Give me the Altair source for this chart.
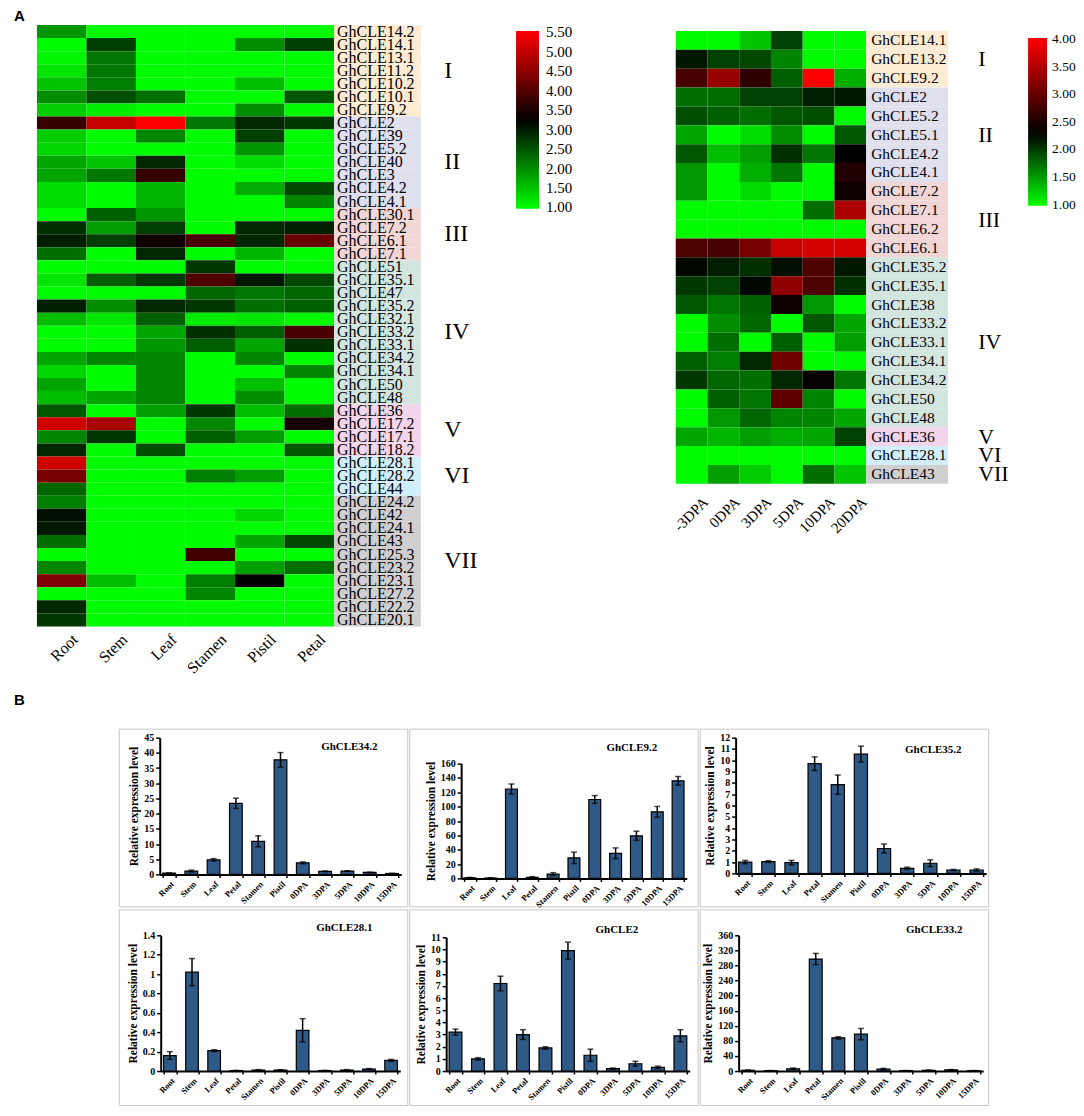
import altair as alt
import pandas as pd

SERIF = "Liberation Serif"
SANS = "Liberation Sans"

# ---------------- Panel A : tissues heatmap ----------------
TISSUES = ["Root", "Stem", "Leaf", "Stamen", "Pistil", "Petal"]
GENES_L = ["GhCLE14.2", "GhCLE14.1", "GhCLE13.1", "GhCLE11.2", "GhCLE10.2", "GhCLE10.1", "GhCLE9.2",
           "GhCLE2", "GhCLE39", "GhCLE5.2", "GhCLE40", "GhCLE3", "GhCLE4.2", "GhCLE4.1",
           "GhCLE30.1", "GhCLE7.2", "GhCLE6.1", "GhCLE7.1",
           "GhCLE51", "GhCLE35.1", "GhCLE47", "GhCLE35.2", "GhCLE32.1", "GhCLE33.2", "GhCLE33.1",
           "GhCLE34.2", "GhCLE34.1", "GhCLE50", "GhCLE48",
           "GhCLE36", "GhCLE17.2", "GhCLE17.1", "GhCLE18.2",
           "GhCLE28.1", "GhCLE28.2", "GhCLE44",
           "GhCLE24.2", "GhCLE42", "GhCLE24.1", "GhCLE43", "GhCLE25.3", "GhCLE23.2", "GhCLE23.1",
           "GhCLE27.2", "GhCLE22.2", "GhCLE20.1"]
GROUP_NAMES = ["I", "II", "III", "IV", "V", "VI", "VII"]
GROUP_SIZES_L = [7, 7, 4, 11, 4, 3, 10]

ROOT_L = [1.91, 1.0, 1.05, 1.19, 1.49, 1.98, 1.41,
          3.74, 1.41, 1.34, 1.77, 1.77, 1.27, 1.27,
          1.0, 2.83, 2.97, 2.26,
          1.0, 1.19, 1.0, 2.97, 1.56, 1.0, 1.0, 1.77, 1.34, 1.77, 1.56,
          2.47, 5.09, 2.05, 2.90,
          5.09, 4.31, 2.33,
          2.12, 3.11, 3.04, 2.26, 1.0, 2.05, 4.38, 1.0, 2.90, 2.76]
STEM_L = [1.0, 2.69, 2.19, 2.19, 2.12, 2.54, 1.13,
          5.01, 1.0, 1.0, 1.49, 2.19, 1.0, 1.0,
          2.40, 1.84, 2.69, 1.0,
          1.0, 2.40, 1.0, 1.98, 1.19, 1.0, 1.0, 2.05, 1.0, 1.0, 1.77,
          1.0, 4.73, 2.76, 1.0,
          1.0, 1.0, 1.0,
          1.0, 1.0, 1.0, 1.0, 1.0, 1.0, 1.56, 1.0, 1.0, 1.0]
LEAF_L = [1.0, 1.0, 1.0, 1.0, 1.0, 2.26, 1.0,
          5.5, 2.05, 1.0, 2.90, 3.74, 1.62, 1.62,
          1.91, 2.69, 3.39, 2.90,
          1.0, 2.76, 1.0, 2.90, 2.40, 1.77, 1.91, 2.05, 2.05, 2.05, 2.05,
          1.84, 1.0, 1.0, 2.54,
          1.0, 1.0, 1.0,
          1.0, 1.0, 1.0, 1.0, 1.0, 1.0, 1.0, 1.0, 1.0, 1.0]
STAMEN_L = [1.0, 1.0, 1.0, 1.0, 1.0, 1.0, 1.0,
            2.19, 1.0, 1.0, 1.0, 1.0, 1.0, 1.0,
            1.0, 1.0, 3.89, 1.0,
            2.76, 3.96, 2.33, 2.76, 1.13, 2.83, 2.40, 1.0, 1.0, 1.0, 1.0,
            2.76, 2.05, 2.40, 1.0,
            1.0, 2.12, 1.0,
            1.0, 1.0, 1.0, 1.0, 3.81, 1.0, 2.12, 2.05, 1.0, 1.0]
PISTIL_L = [1.0, 1.98, 1.0, 1.0, 1.56, 1.0, 1.98,
            2.90, 2.69, 1.91, 1.27, 1.0, 1.70, 1.0,
            1.0, 2.90, 2.90, 1.62,
            1.0, 3.04, 2.19, 2.26, 1.19, 2.40, 1.77, 2.05, 1.0, 1.56, 1.98,
            1.56, 1.0, 1.84, 1.0,
            1.0, 1.84, 1.0,
            1.0, 1.34, 1.0, 1.77, 1.0, 1.84, 3.25, 1.0, 1.0, 1.0]
PETAL_L = [1.0, 2.69, 1.0, 1.0, 1.0, 2.47, 1.0,
           2.76, 1.0, 1.0, 1.0, 1.0, 2.61, 2.05,
           1.0, 2.97, 4.17, 1.0,
           1.0, 2.61, 2.33, 2.40, 1.0, 3.89, 2.83, 1.0, 2.05, 1.0, 1.0,
           2.26, 3.46, 1.0, 2.47,
           1.0, 1.0, 1.0,
           1.0, 1.0, 1.0, 2.61, 1.0, 2.26, 1.0, 1.0, 1.0, 1.0]
LEFT_COLS = [ROOT_L, STEM_L, LEAF_L, STAMEN_L, PISTIL_L, PETAL_L]
LEGEND_L = [5.5, 5.0, 4.5, 4.0, 3.5, 3.0, 2.5, 2.0, 1.5, 1.0]

# ---------------- Panel A : fibre development heatmap ----------------
STAGES = ["-3DPA", "0DPA", "3DPA", "5DPA", "10DPA", "20DPA"]
GENES_R = ["GhCLE14.1", "GhCLE13.2", "GhCLE9.2",
           "GhCLE2", "GhCLE5.2", "GhCLE5.1", "GhCLE4.2", "GhCLE4.1",
           "GhCLE7.2", "GhCLE7.1", "GhCLE6.2", "GhCLE6.1",
           "GhCLE35.2", "GhCLE35.1", "GhCLE38", "GhCLE33.2", "GhCLE33.1", "GhCLE34.1",
           "GhCLE34.2", "GhCLE50", "GhCLE48",
           "GhCLE36", "GhCLE28.1", "GhCLE43"]
GROUP_SIZES_R = [3, 5, 4, 9, 1, 1, 1]
M3DPA = [1.0, 2.18, 2.78, 1.73, 1.89, 1.44, 1.85, 1.52, 1.52, 1.0, 1.0, 2.83,
         2.26, 2.01, 1.85, 1.0, 1.0, 1.81, 2.01, 1.0, 1.0, 1.44, 1.0, 1.0]
D0DPA = [1.0, 1.97, 3.31, 1.73, 1.81, 1.0, 1.32, 1.0, 1.0, 1.0, 1.0, 2.78,
         2.14, 1.97, 1.69, 1.57, 1.73, 1.65, 1.77, 1.81, 1.52, 1.36, 1.0, 1.48]
D3DPA = [1.28, 1.93, 2.62, 1.97, 1.73, 1.16, 1.48, 1.40, 1.16, 1.0, 1.0, 3.10,
         2.05, 2.26, 1.81, 1.77, 1.0, 2.10, 1.73, 1.69, 1.77, 1.48, 1.0, 1.24]
D5DPA = [1.97, 1.61, 1.81, 1.97, 1.85, 1.57, 2.05, 1.69, 1.0, 1.0, 1.0, 3.63,
         2.22, 3.26, 2.40, 1.0, 1.81, 3.05, 2.10, 2.94, 1.61, 1.40, 1.0, 1.0]
D10DPA = [1.0, 1.0, 4.0, 2.14, 1.89, 1.0, 1.69, 1.0, 1.0, 1.73, 1.0, 3.74,
          2.83, 2.83, 1.52, 1.85, 1.0, 1.0, 2.35, 1.61, 1.61, 1.44, 1.0, 1.73]
D20DPA = [1.0, 1.0, 1.40, 2.18, 1.0, 1.85, 2.30, 2.53, 2.40, 3.47, 1.0, 3.74,
          2.18, 2.05, 1.0, 1.44, 1.48, 1.0, 1.69, 1.0, 1.44, 1.97, 1.0, 1.28]
RIGHT_COLS = [M3DPA, D0DPA, D3DPA, D5DPA, D10DPA, D20DPA]
LEGEND_R = [4.0, 3.5, 3.0, 2.5, 2.0, 1.5, 1.0]

# group background colours (style)
GROUP_BG = ["#FDEBD3", "#DFDFEE", "#F2D6D6", "#D3E5DF", "#F4D4EA", "#D0EFFA", "#D0CECE"]

# ---------------- Panel B : qRT-PCR ----------------
SAMPLES = ["Root", "Stem", "Leaf", "Petal", "Stamen", "Pistil", "0DPA", "3DPA", "5DPA", "10DPA", "15DPA"]
P1_NAME = "GhCLE34.2"
P1_VAL = [0.4, 1.1, 4.8, 23.4, 10.9, 37.7, 3.8, 1.0, 1.1, 0.65, 0.3]
P1_ERR = [0.1, 0.3, 0.4, 1.7, 1.8, 2.4, 0.3, 0.1, 0.1, 0.1, 0.05]
P2_NAME = "GhCLE9.2"
P2_VAL = [0.9, 0.5, 124.6, 1.4, 6.0, 28.6, 110.0, 35.0, 59.4, 92.8, 136.0]
P2_ERR = [0.5, 0.3, 7.0, 1.0, 2.0, 8.0, 5.5, 7.5, 6.4, 7.5, 6.0]
P3_NAME = "GhCLE35.2"
P3_VAL = [1.0, 1.05, 0.95, 9.7, 7.85, 10.55, 2.2, 0.45, 0.9, 0.3, 0.3]
P3_ERR = [0.15, 0.08, 0.2, 0.6, 0.85, 0.7, 0.4, 0.1, 0.3, 0.05, 0.1]
P4_NAME = "GhCLE28.1"
P4_VAL = [0.16, 1.02, 0.21, 0.005, 0.01, 0.01, 0.42, 0.005, 0.01, 0.02, 0.11]
P4_ERR = [0.04, 0.14, 0.01, 0.002, 0.004, 0.004, 0.12, 0.002, 0.004, 0.005, 0.01]
P5_NAME = "GhCLE2"
P5_VAL = [3.2, 1.0, 7.2, 3.0, 1.9, 9.9, 1.3, 0.2, 0.6, 0.3, 2.9]
P5_ERR = [0.25, 0.1, 0.6, 0.4, 0.1, 0.7, 0.5, 0.05, 0.2, 0.1, 0.5]
P6_NAME = "GhCLE33.2"
P6_VAL = [2, 1, 6, 297, 88, 98, 5, 1, 2, 3, 1]
P6_ERR = [0.5, 0.3, 2, 15, 3, 15, 2, 0.3, 0.5, 0.8, 0.3]

P1_TICKS = list(range(0, 46, 5))
P2_TICKS = list(range(0, 161, 20))
P3_TICKS = list(range(0, 13, 1))
P4_TICKS = [0, 0.2, 0.4, 0.6, 0.8, 1, 1.2, 1.4]
P5_TICKS = list(range(0, 12, 1))
P6_TICKS = list(range(0, 361, 40))

BAR_FILL = "#2F5A88"


def heat_section(genes, col_names, col_arrays, sizes, field, cscale, legend,
                 colw, rowh, width, height, y_top, label_w, label_dx, label_fs,
                 num_x, num_fs, tdx, tdy, tfs, extra=()):
    n = len(genes)
    grp = [g for g, s in zip(GROUP_NAMES, sizes) for _ in range(s)]
    cells = pd.DataFrame([{"c0": c, "c1": c + 1, "r0": r, "r1": r + 1, field: col_arrays[c][r]}
                          for c in range(len(col_names)) for r in range(n)])
    sx = alt.Scale(domain=[0, width / colw], range=[0, width], nice=False, zero=False)
    sy = alt.Scale(domain=[0, n], range=[y_top, y_top + n * rowh], nice=False, zero=False)
    heat = alt.Chart(cells).mark_rect().encode(
        x=alt.X("c0:Q", scale=sx, axis=None), x2="c1",
        y=alt.Y("r0:Q", scale=sy, axis=None), y2="r1",
        color=alt.Color(f"{field}:Q", scale=cscale, legend=legend))
    ncol = len(col_names)
    lab = pd.DataFrame({"gene": genes, "grp": grp,
                        "r0": list(range(n)), "r1": [i + 1 for i in range(n)],
                        "lx0": [float(ncol)] * n, "lx1": [ncol + label_w / colw] * n,
                        "tx": [ncol + label_dx / colw] * n, "ty": [i + 0.5 for i in range(n)]})
    bg = alt.Chart(lab).mark_rect().encode(
        x=alt.X("lx0:Q", scale=sx, axis=None), x2="lx1",
        y=alt.Y("r0:Q", scale=sy, axis=None), y2="r1",
        fill=alt.Fill("grp:N", scale=alt.Scale(domain=GROUP_NAMES, range=GROUP_BG), legend=None))
    txt = alt.Chart(lab).mark_text(align="left", baseline="middle", font=SERIF,
                                   fontSize=label_fs, color="black").encode(
        x=alt.X("tx:Q", scale=sx, axis=None), y=alt.Y("ty:Q", scale=sy, axis=None), text="gene:N")
    starts, acc = [], 0
    for s in sizes:
        starts.append(acc + s / 2)
        acc += s
    nums = pd.DataFrame({"grp": GROUP_NAMES, "ny": starts, "nx": [num_x / colw] * len(sizes)})
    numt = alt.Chart(nums).mark_text(align="left", baseline="middle", font=SERIF,
                                     fontSize=num_fs, color="black").encode(
        x=alt.X("nx:Q", scale=sx, axis=None), y=alt.Y("ny:Q", scale=sy, axis=None), text="grp:N")
    tk = pd.DataFrame({"name": col_names,
                       "kx": [c + 0.5 + tdx / colw for c in range(ncol)],
                       "ky": [n + tdy / rowh] * ncol})
    tkt = alt.Chart(tk).mark_text(align="right", baseline="top", angle=315, font=SERIF,
                                  fontSize=tfs, color="black").encode(
        x=alt.X("kx:Q", scale=sx, axis=None), y=alt.Y("ky:Q", scale=sy, axis=None), text="name:N")
    return alt.layer(heat, bg, txt, numt, tkt, *extra).properties(width=width, height=height)


# left section (domain padded a hair so the end labels stay centred on their values)
scale_L = alt.Scale(domain=[0.97, 3.25, 5.53], range=["#00ff00", "#000000", "#ff0000"], interpolate="rgb")
leg_L = alt.Legend(orient="none", legendX=480, legendY=6, direction="vertical",
                   gradientLength=178, gradientThickness=23, values=LEGEND_L, format=".2f",
                   labelFont=SERIF, labelFontSize=15, labelColor="black", labelOffset=7,
                   labelBaseline="middle", labelOverlap=False, title=None, gradientStrokeWidth=0)
a_label = alt.Chart(pd.DataFrame({"t": ["A"]})).mark_text(
    align="left", baseline="top", font=SANS, fontWeight="bold", fontSize=15, color="black").encode(
    text="t:N", x=alt.value(-23), y=alt.value(-16))
left = heat_section(GENES_L, TISSUES, LEFT_COLS, GROUP_SIZES_L, "expr", scale_L, leg_L,
                    colw=49.6, rowh=13.1, width=640, height=603, y_top=0,
                    label_w=87, label_dx=3, label_fs=16, num_x=408, num_fs=24,
                    tdx=8, tdy=5, tfs=16, extra=(a_label,))

# right section
scale_R = alt.Scale(domain=[0.98, 2.3, 4.02], range=["#00ff00", "#000000", "#ff0000"], interpolate="rgb")
leg_R = alt.Legend(orient="none", legendX=353, legendY=13, direction="vertical",
                   gradientLength=168, gradientThickness=19, values=LEGEND_R, format=".2f",
                   labelFont=SERIF, labelFontSize=13.5, labelColor="black", labelOffset=5,
                   labelBaseline="middle", labelOverlap=False, title=None, gradientStrokeWidth=0)
right = heat_section(GENES_R, STAGES, RIGHT_COLS, GROUP_SIZES_R, "fib", scale_R, leg_R,
                     colw=31.8, rowh=18.9, width=372, height=603, y_top=6,
                     label_w=82, label_dx=5, label_fs=15.5, num_x=303, num_fs=22,
                     tdx=9, tdy=11, tfs=15)

top_row = alt.hconcat(left, right, spacing=0, bounds="flush").resolve_scale(color="independent")


def bar_panel(name, vals, errs, ticks, h, x0, x1, ybot, ytop, tx, ty):
    df = pd.DataFrame({"s": SAMPLES, "v": vals, "e": errs})
    df["lo"] = (df["v"] - df["e"]).clip(lower=0)
    df["hi"] = df["v"] + df["e"]
    xs = alt.Scale(domain=SAMPLES, range=[x0, x1], paddingInner=0.43, paddingOuter=0.13)
    ys = alt.Scale(domain=[0, ticks[-1]], range=[ybot, ytop], nice=False, zero=True)
    xax = alt.Axis(title=None, labelAngle=315, labelFont=SERIF, labelFontWeight="bold",
                   labelFontSize=8.5, labelColor="black", labelPadding=2,
                   domainColor="black", domainWidth=2, tickColor="black", tickWidth=1.5,
                   tickSize=3, tickBand="extent", offset=ybot - h, grid=False)
    yax = alt.Axis(title="Relative expression level", values=ticks, format="~f",
                   labelFont=SERIF, labelFontWeight="bold", labelFontSize=10, labelColor="black",
                   labelOverlap=False, labelSeparation=0,
                   titleFont=SERIF, titleFontWeight="bold", titleFontSize=11.5, titleColor="black",
                   titlePadding=4, domainColor="black", domainWidth=2, tickColor="black",
                   tickWidth=1.5, tickSize=4, labelPadding=2, offset=-x0, grid=False)
    X = alt.X("s:N", scale=xs, axis=xax)
    base = alt.Chart(df)
    bars = base.mark_bar(fill=BAR_FILL, stroke="black", strokeWidth=1.2).encode(
        x=X, y=alt.Y("v:Q", scale=ys, axis=yax))
    rule = base.mark_rule(color="black", strokeWidth=1.5).encode(
        x=X, y=alt.Y("lo:Q", scale=ys, axis=yax), y2="hi")
    cap_hi = base.mark_tick(color="black", thickness=1.5, size=6, orient="horizontal").encode(
        x=X, y=alt.Y("hi:Q", scale=ys, axis=yax))
    cap_lo = base.mark_tick(color="black", thickness=1.5, size=6, orient="horizontal").encode(
        x=X, y=alt.Y("lo:Q", scale=ys, axis=yax))
    ttl = alt.Chart(pd.DataFrame({"t": [name]})).mark_text(
        font=SERIF, fontWeight="bold", fontSize=11, color="black", align="center",
        baseline="middle").encode(text="t:N", x=alt.value(tx), y=alt.value(ty))
    return alt.layer(bars, rule, cap_hi, cap_lo, ttl).properties(
        width=289, height=h, view=alt.ViewBackground(stroke="#c8c8c8", strokeWidth=1))


p1 = bar_panel(P1_NAME, P1_VAL, P1_ERR, P1_TICKS, 178, 41, 283, 146, 9, 231, 18)
p2 = bar_panel(P2_NAME, P2_VAL, P2_ERR, P2_TICKS, 178, 52, 278, 150, 35, 223, 19)
p3 = bar_panel(P3_NAME, P3_VAL, P3_ERR, P3_TICKS, 178, 36, 287, 145, 9, 234, 21)
p4 = bar_panel(P4_NAME, P4_VAL, P4_ERR, P4_TICKS, 196, 42, 282, 162, 26, 226, 19)
p5 = bar_panel(P5_NAME, P5_VAL, P5_ERR, P5_TICKS, 196, 37, 281, 162, 28, 208, 21)
p6 = bar_panel(P6_NAME, P6_VAL, P6_ERR, P6_TICKS, 196, 39, 284, 162, 26, 235, 21)

sp1 = alt.Chart(pd.DataFrame({"t": ["B"]})).mark_text(
    align="left", baseline="middle", font=SANS, fontWeight="bold", fontSize=15, color="black").encode(
    text="t:N", x=alt.value(-23), y=alt.value(-29)).properties(width=81, height=178)
sp2 = alt.Chart(pd.DataFrame({"t": ["B"]})).mark_text(
    align="left", baseline="middle", font=SANS, fontWeight="bold", fontSize=15, opacity=0).encode(
    text="t:N", x=alt.value(-23), y=alt.value(20)).properties(width=81, height=196)

row1 = alt.hconcat(sp1, p1, p2, p3, spacing=0)
row2 = alt.hconcat(sp2, p4, p5, p6, spacing=0)
bottom = alt.vconcat(row1, row2, spacing=-6)

chart = alt.vconcat(top_row, bottom, spacing=16).properties(
    padding={"left": 6, "top": 0, "right": 0, "bottom": 2}, background="white"
).configure_view(strokeWidth=0).configure_axis(labelOverlap=False)

chart.save("out.html", embed_options={"renderer": "svg", "actions": False})
